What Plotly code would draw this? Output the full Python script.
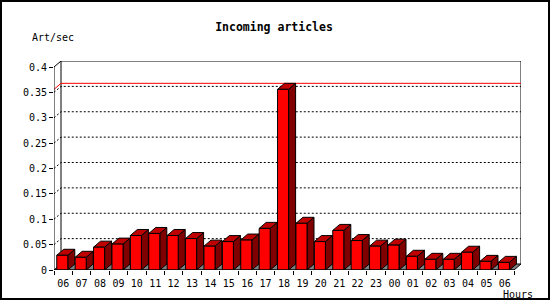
import plotly.graph_objects as go

# ---------------- data ----------------
hours = ["06", "07", "08", "09", "10", "11", "12", "13", "14", "15", "16", "17",
         "18", "19", "20", "21", "22", "23", "00", "01", "02", "03", "04", "05", "06"]
rate = [0.029, 0.025, 0.045, 0.051, 0.068, 0.072, 0.068, 0.062, 0.047, 0.056,
        0.059, 0.082, 0.356, 0.092, 0.056, 0.078, 0.058, 0.047, 0.049, 0.027,
        0.021, 0.021, 0.035, 0.017, 0.015]
y_tick_vals = [0, 0.05, 0.1, 0.15, 0.2, 0.25, 0.3, 0.35, 0.4]
y_tick_text = ["0", "0.05", "0.1", "0.15", "0.2", "0.25", "0.3", "0.35", "0.4"]
title_text = "Incoming articles"
y_title = "Art/sec"
x_title = "Hours"

# ---------------- geometry / style ----------------
W, H = 550, 300
L_M, B_M = 54, 30
PPU_X = 18.4          # pixels per slot
PPU_Y = 507.5         # pixels per unit value
DX = 7 / PPU_X        # 3-D depth offset (x, data units)
DY = 6 / PPU_Y        # 3-D depth offset (y, data units)
BL, BR = 0.15, 0.75   # bar front face inside slot
n = len(hours)
ymax_axis = y_tick_vals[-1]
plot_w = 467
plot_h = 209
R_M = W - L_M - plot_w
T_M = H - B_M - plot_h
x_range = [0, plot_w / PPU_X]
y_range = [0, plot_h / PPU_Y]
FONT = "DejaVu Sans Mono"


def px(x):
    return (x - L_M) / plot_w


def py(y):
    return (H - B_M - y) / plot_h


fig = go.Figure()


def poly_trace(xs, ys, fill, color="black", width=1, dash=None):
    fig.add_trace(go.Scatter(
        x=xs, y=ys, mode="lines",
        fill="toself" if fill else None,
        fillcolor=fill if fill else None,
        line=dict(color=color, width=width, dash=dash),
        hoverinfo="skip", showlegend=False, cliponaxis=False))


# back-wall dotted gridlines (with stub diagonals on the left wall)
gx, gy = [], []
for v in y_tick_vals[1:-1]:
    gx += [0, DX, n + DX, None]
    gy += [v, v + DY, v + DY, None]
poly_trace(gx, gy, None, dash="2px,2px")

# floor
poly_trace([0, n, n + DX, DX, 0], [0, 0, DY, DY, 0], "#808080")

# back wall frame
poly_trace([DX, DX, n + DX, n + DX], [DY, ymax_axis + DY, ymax_axis + DY, DY], None)
poly_trace([0, DX], [ymax_axis, ymax_axis + DY], None)

# max line (red)
m = max(rate)
poly_trace([0, DX, n + DX], [m, m + DY, m + DY], None, color="#ff0000")

# bars
fx, fy, tx, ty, sx, sy = [], [], [], [], [], []
for i, v in enumerate(rate):
    a, b = i + BL, i + BR
    fx += [a, b, b, a, a, None]
    fy += [0, 0, v, v, 0, None]
    tx += [a, b, b + DX, a + DX, a, None]
    ty += [v, v, v + DY, v + DY, v, None]
    sx += [b, b + DX, b + DX, b, b, None]
    sy += [0, DY, v + DY, v, 0, None]
poly_trace(sx, sy, "#800000")
poly_trace(tx, ty, "#c00000")
poly_trace(fx, fy, "#ff0000")

# front axis lines
poly_trace([0, 0, n], [ymax_axis, 0, 0], None)

fig.update_layout(
    width=W, height=H,
    margin=dict(l=L_M, r=R_M, t=T_M, b=B_M),
    paper_bgcolor="white", plot_bgcolor="white",
    title=dict(text="<b>" + title_text + "</b>", x=274 / W, xref="container",
               xanchor="center", y=1 - 27 / H, yref="container", yanchor="middle",
               font=dict(family=FONT, size=11.5, color="black")),
    xaxis=dict(range=x_range, showgrid=False, zeroline=False, showline=False,
               tickmode="array", tickvals=[i + 0.5 for i in range(n)], ticktext=hours,
               ticks="outside", ticklen=4, tickcolor="rgba(0,0,0,0)",
               tickfont=dict(family=FONT, size=10, color="black"),
               minor=dict(ticks="outside", ticklen=4, tickcolor="black",
                          tickmode="array", tickvals=list(range(n + 1))),
               fixedrange=True),
    yaxis=dict(range=y_range, showgrid=False, zeroline=False, showline=False,
               tickmode="array", tickvals=y_tick_vals, ticktext=y_tick_text,
               ticks="outside", ticklen=4, tickcolor="black",
               tickfont=dict(family=FONT, size=10, color="black"),
               fixedrange=True),
    annotations=[
        dict(text=y_title, xref="paper", yref="paper", x=px(30), y=py(37),
             xanchor="left", yanchor="middle", showarrow=False,
             font=dict(family=FONT, size=10, color="black")),
        dict(text=x_title, xref="paper", yref="paper", x=px(535), y=py(294),
             xanchor="right", yanchor="middle", showarrow=False,
             font=dict(family=FONT, size=10, color="black")),
    ],
    shapes=[dict(type="rect", xref="paper", yref="paper",
                 x0=px(1), x1=px(549), y0=py(299), y1=py(1),
                 line=dict(color="black", width=2), layer="above")],
)

fig.write_html("out.html")
